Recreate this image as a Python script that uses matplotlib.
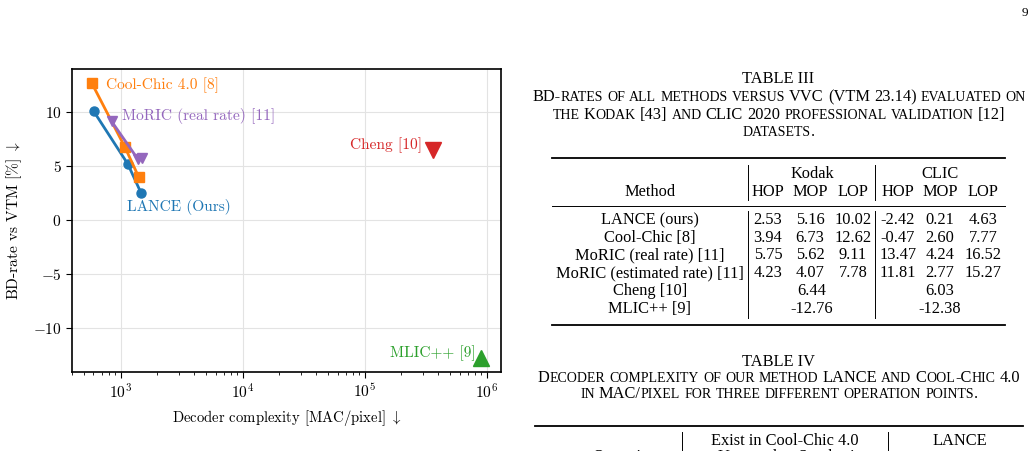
import numpy as np
import matplotlib
matplotlib.use("Agg")
import matplotlib.pyplot as plt
from matplotlib.lines import Line2D

# ---- chart data ----
lance_x = [604, 1148, 1467]
lance_y = [10.02, 5.16, 2.53]
cool_x = [582, 1085, 1412]
cool_y = [12.62, 6.73, 3.94]
moric_x = [844, 1386, 1496]
moric_y = [9.11, 5.62, 5.75]
cheng_x = [3.63e5]
cheng_y = [6.44]
mlic_x = [8.97e5]
mlic_y = [-12.76]

# ---- table III data ----
methods = ["LANCE (ours)", "Cool-Chic [8]", "MoRIC (real rate) [11]",
           "MoRIC (estimated rate) [11]", "Cheng [10]", "MLIC++ [9]"]
kodak = [["2.53", "5.16", "10.02"], ["3.94", "6.73", "12.62"],
         ["5.75", "5.62", "9.11"], ["4.23", "4.07", "7.78"],
         ["6.44"], ["-12.76"]]
clic = [["-2.42", "0.21", "4.63"], ["-0.47", "2.60", "7.77"],
        ["13.47", "4.24", "16.52"], ["11.81", "2.77", "15.27"],
        ["6.03"], ["-12.38"]]
ops = ["HOP", "MOP", "LOP"]

W, H = 1036, 451
plt.rcParams['font.family'] = ['cmr10', 'DejaVu Serif']
plt.rcParams['mathtext.fontset'] = 'cm'
plt.rcParams['axes.formatter.use_mathtext'] = True

fig = plt.figure(figsize=(W/100, H/100), dpi=100)

def fx(x):
	return x/W

def fy(y):
	return 1 - y/H

fs = 11.1
ax = fig.add_axes([fx(72), fy(372), (501-72)/W, (372-69)/H])
ax.plot(lance_x, lance_y, '-o', color='tab:blue', lw=2, ms=6.5)
ax.plot(cool_x, cool_y, '-s', color='tab:orange', lw=2, ms=6.5)
ax.plot(moric_x, moric_y, '-v', color='tab:purple', lw=2, ms=7.5)
ax.plot(cheng_x, cheng_y, 'v', color='tab:red', ms=11)
ax.plot(mlic_x, mlic_y, '^', color='tab:green', ms=11)

ax.text(754, 12.46, "Cool-Chic 4.0 [8]", color='tab:orange', fontsize=fs, va='center')
ax.text(1031, 9.6, "MoRIC (real rate) [11]", color='tab:purple', fontsize=fs, va='center')
ax.text(1133, 1.23, "LANCE (Ours)", color='tab:blue', fontsize=fs, va='center')
ax.text(2.98e5, 6.92, "Cheng [10]", color='tab:red', fontsize=fs, va='center', ha='right')
ax.text(8.17e5, -12.25, "MLIC++ [9]", color='tab:green', fontsize=fs, va='center', ha='right')

ax.set_xscale('log')
ax.set_xlim(400, 1.31e6)
ax.set_ylim(-14.03, 13.94)
ax.set_yticks([-10, -5, 0, 5, 10])
ax.grid(True, which='major', color='#e3e3e3', lw=0.8)
ax.set_axisbelow(True)
ax.tick_params(which='major', direction='out', length=4, width=0.8, labelsize=fs)
ax.tick_params(which='minor', direction='out', length=2.5, width=0.6)
for s in ax.spines.values():
	s.set_linewidth(1.2)
ax.set_xlabel(r"Decoder complexity [MAC/pixel] $\downarrow$", fontsize=10.6, labelpad=5)
ax.set_ylabel(r"BD-rate vs VTM [%] $\downarrow$", fontsize=fs, labelpad=6)

# ---- page text, tables ----
tf = 'Liberation Serif'
ts = 11.8
r = fig.canvas.get_renderer()

def txt(x, y, s, size=ts, ha='center'):
	return fig.text(fx(x), fy(y), s, fontsize=size, family=tf, ha=ha, va='baseline')

def hline(x0, x1, y, lw):
	fig.add_artist(Line2D([fx(x0), fx(x1)], [fy(y), fy(y)], transform=fig.transFigure, color='black', lw=lw))

def vline(x, y0, y1):
	fig.add_artist(Line2D([fx(x), fx(x)], [fy(y0), fy(y1)], transform=fig.transFigure, color='black', lw=0.7))

def smallcaps(xc, y, s, size=ts):
	# fake small caps: lower case letters become smaller capitals
	sp = txt(0, y, "x x", size)
	nosp = txt(0, y, "xx", size)
	space = sp.get_window_extent(r).width - nosp.get_window_extent(r).width
	sp.remove()
	nosp.remove()
	parts = []
	for word in s.split(" "):
		runs = []
		for ch in word:
			small = ch.islower()
			if runs and runs[-1][1] == small:
				runs[-1][0] += ch.upper() if small else ch
			else:
				runs.append([ch.upper() if small else ch, small])
		for t, small in runs:
			a = txt(0, y, t, size*0.85 if small else size, ha='left')
			parts.append((a, a.get_window_extent(r).width))
		parts.append((None, space))
	parts = parts[:-1]
	total = sum(w for a, w in parts)
	x = xc - total/2
	for a, w in parts:
		if a is not None:
			a.set_x(fx(x))
		x += w

txt(1025, 16, "9", 9.5)

txt(778, 83, "TABLE III")
smallcaps(779, 101, "BD-rates of all methods versus VVC (VTM 23.14) evaluated on")
smallcaps(779, 119, "the Kodak [43] and CLIC 2020 professional validation [12]")
smallcaps(779, 136, "datasets.")

hline(552, 1005, 158, 1.3)
hline(552, 1005, 206, 0.7)
hline(552, 1005, 325, 1.3)
vline(748, 165, 200)
vline(748, 211, 318)
vline(875, 165, 200)
vline(875, 211, 318)

kx = [768, 810, 853]
cx = [898, 940, 983]
txt(812, 178, "Kodak")
txt(940, 178, "CLIC")
txt(650, 196, "Method")
for i in range(3):
	txt(kx[i], 196, ops[i])
	txt(cx[i], 196, ops[i])

row_y = [224, 242, 259, 277, 295, 313]
for j in range(len(methods)):
	txt(650, row_y[j], methods[j])
	if len(kodak[j]) == 3:
		for i in range(3):
			txt(kx[i], row_y[j], kodak[j][i])
			txt(cx[i], row_y[j], clic[j][i])
	else:
		txt(812, row_y[j], kodak[j][0])
		txt(940, row_y[j], clic[j][0])

txt(778, 366, "TABLE IV")
smallcaps(779, 382, "Decoder complexity of our method LANCE and Cool-Chic 4.0")
smallcaps(779, 398, "in MAC/pixel for three different operation points.")
hline(535, 1023, 426, 1.3)
vline(682, 432, 460)
vline(888, 432, 460)
txt(785, 445, "Exist in Cool-Chic 4.0")
txt(960, 445, "LANCE")
txt(625, 461, "Operation")
txt(790, 461, "Upsampler  Synthesis")

fig.savefig("out.png", dpi=100)
